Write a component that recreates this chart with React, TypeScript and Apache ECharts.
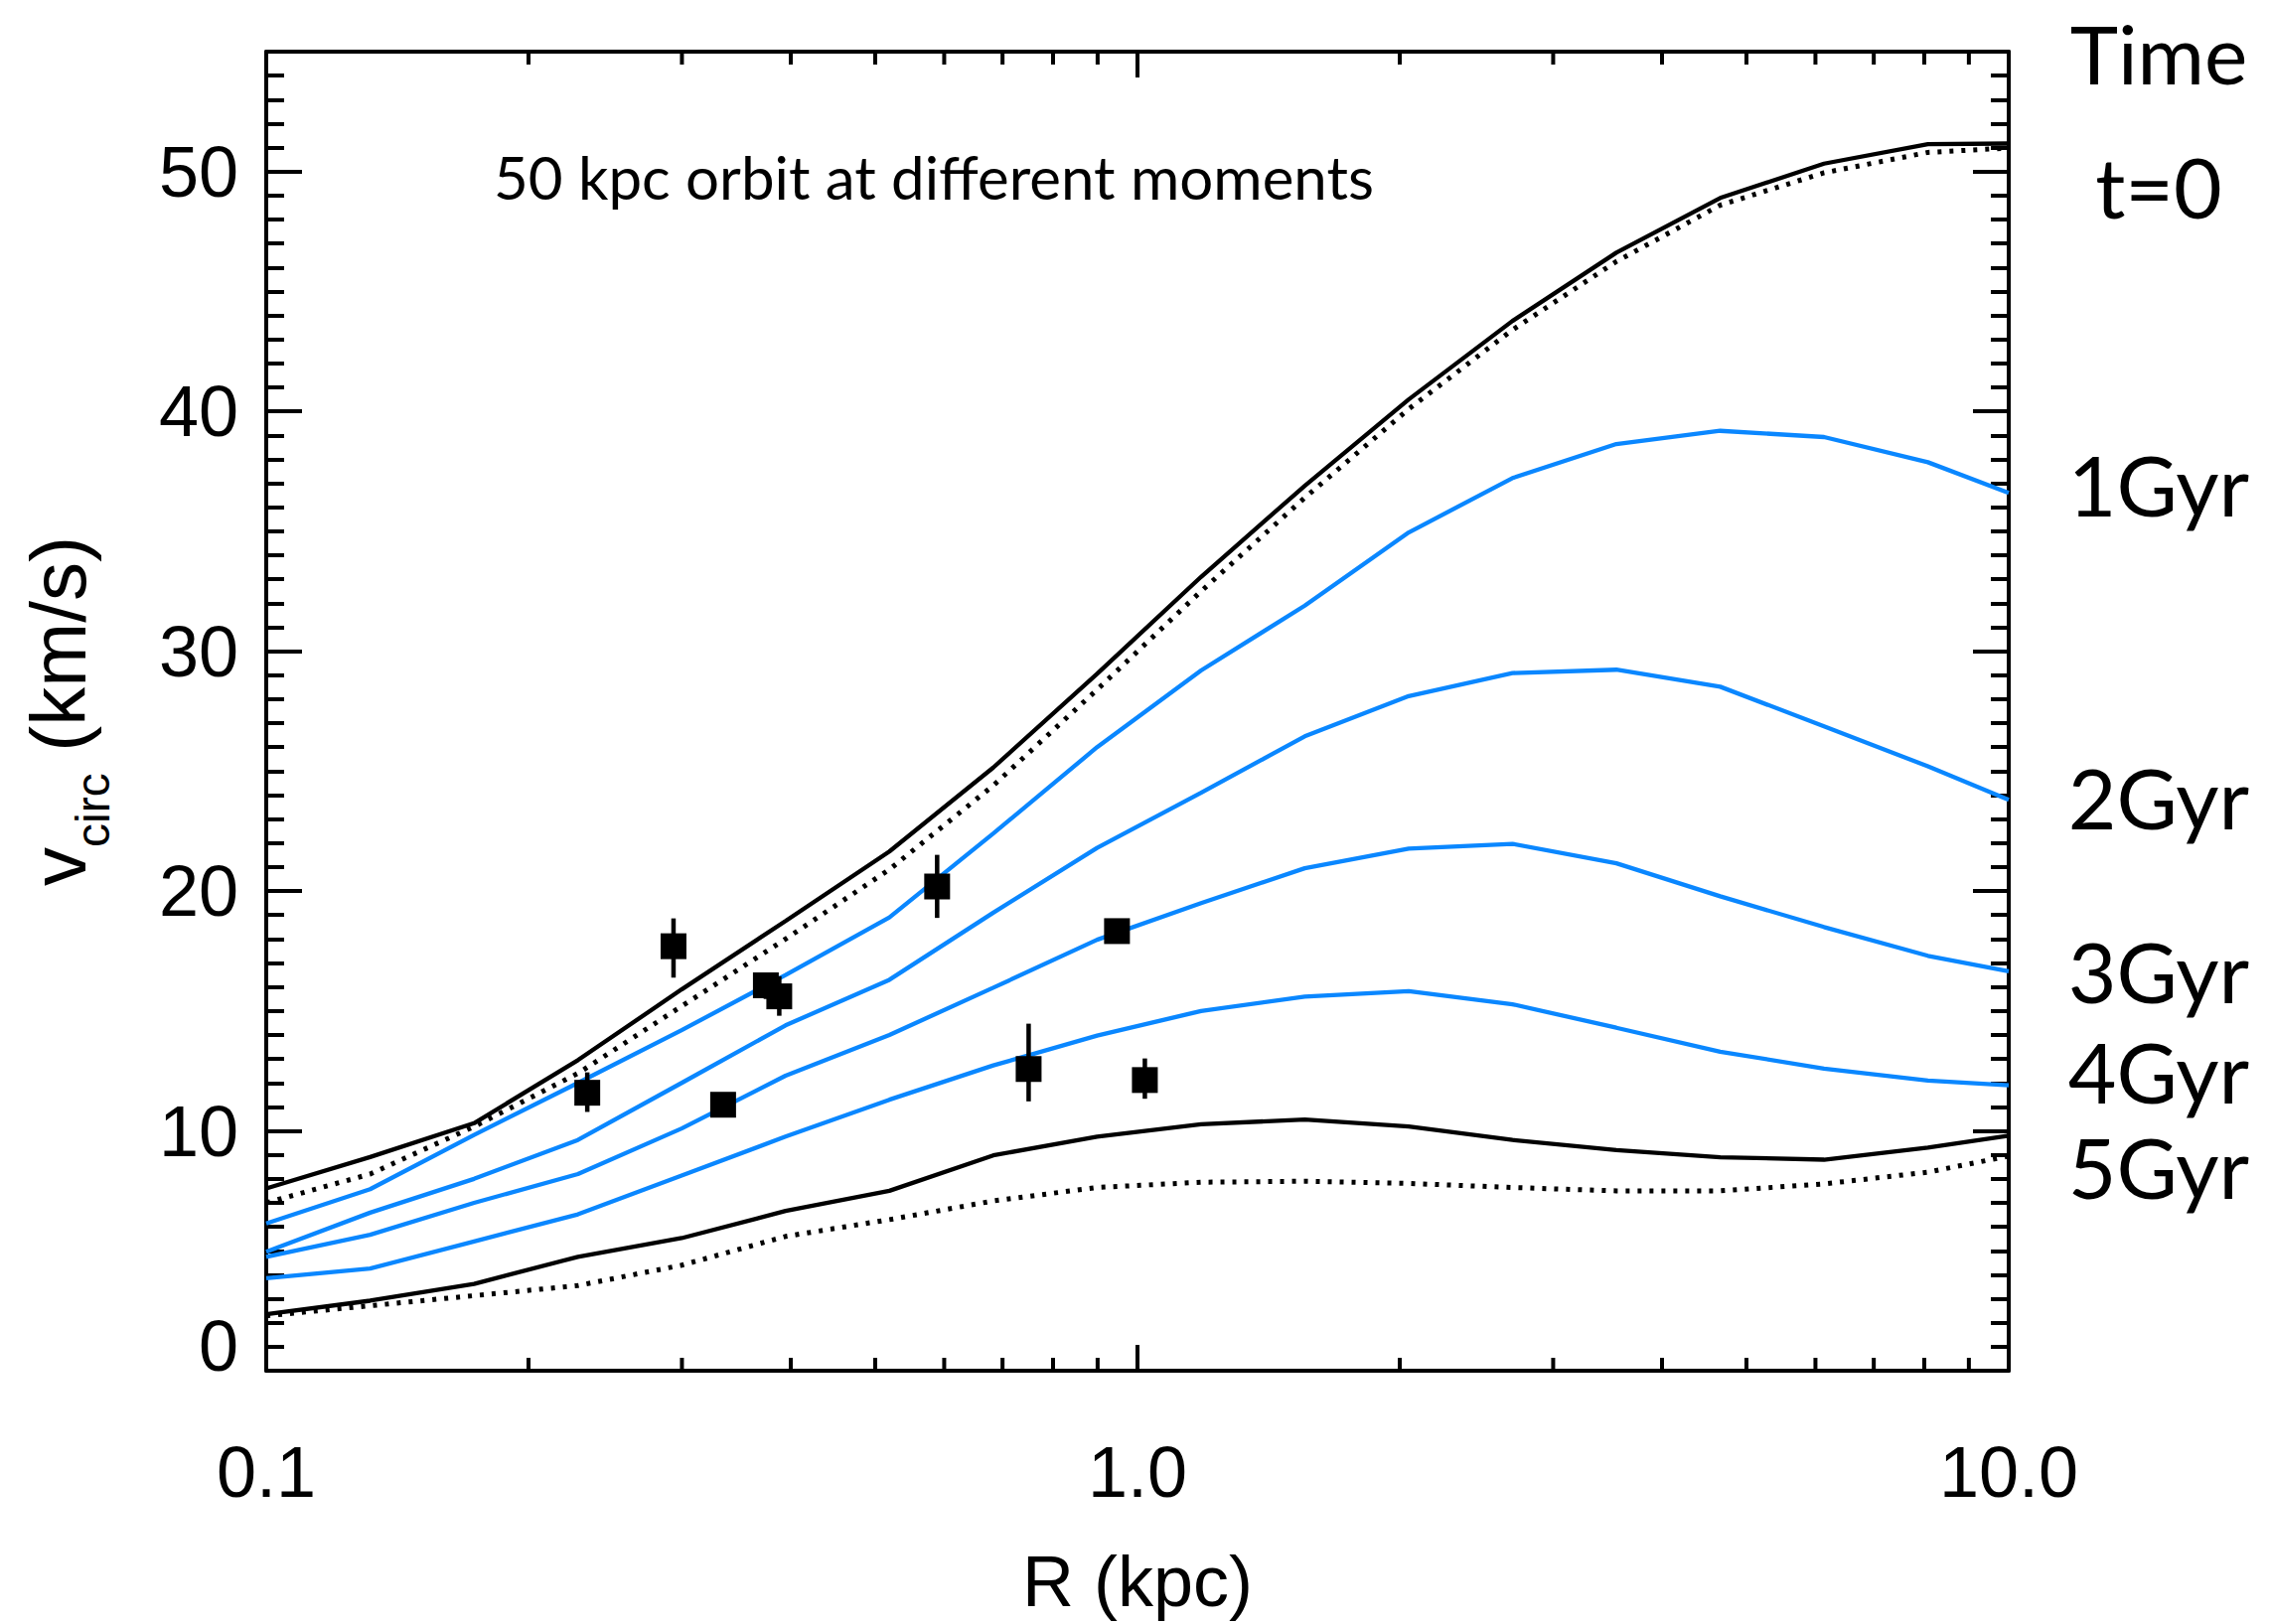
import React, { useEffect, useRef } from 'react';
import * as echarts from 'echarts';

// Radii (kpc) of the model grid points
const R = [0.1, 0.1316, 0.1732, 0.2279, 0.2998, 0.3945, 0.5191, 0.6831, 0.8988, 1.183, 1.556, 2.048, 2.694, 3.545, 4.665, 6.138, 8.077, 10.0];
// Circular velocity curves (km/s)
const t0Solid = [7.6, 8.91, 10.32, 12.95, 15.9, 18.75, 21.65, 25.15, 29.06, 33.1, 36.9, 40.5, 43.77, 46.62, 48.9, 50.33, 51.14, 51.17];
const t0Dotted = [7.0, 8.2, 10.18, 12.4, 15.2, 18.0, 20.9, 24.4, 28.4, 32.5, 36.4, 40.1, 43.4, 46.25, 48.6, 49.95, 50.8, 50.98];
const gyr1 = [6.14, 7.57, 9.83, 12.0, 14.2, 16.5, 18.9, 22.4, 26.0, 29.2, 31.9, 34.95, 37.22, 38.64, 39.19, 38.93, 37.88, 36.6];
const gyr2 = [4.96, 6.59, 8.0, 9.62, 12.0, 14.4, 16.3, 19.1, 21.8, 24.1, 26.45, 28.13, 29.09, 29.23, 28.52, 26.87, 25.2, 23.8];
const gyr3 = [4.75, 5.67, 7.0, 8.2, 10.1, 12.3, 14.0, 15.97, 17.97, 19.5, 20.95, 21.77, 21.97, 21.16, 19.78, 18.5, 17.3, 16.65];
const gyr4 = [3.86, 4.26, 5.39, 6.52, 8.14, 9.76, 11.3, 12.73, 13.97, 15.0, 15.6, 15.83, 15.28, 14.3, 13.3, 12.6, 12.1, 11.9];
const gyr5Solid = [2.36, 2.92, 3.62, 4.75, 5.53, 6.66, 7.5, 8.98, 9.76, 10.28, 10.47, 10.18, 9.62, 9.2, 8.9, 8.8, 9.3, 9.8];
const gyr5Dotted = [2.29, 2.71, 3.13, 3.55, 4.4, 5.6, 6.3, 7.08, 7.64, 7.86, 7.9, 7.81, 7.64, 7.5, 7.5, 7.79, 8.28, 8.95];

// Observed points with error bars
const ptR = [0.2336, 0.2934, 0.3345, 0.3745, 0.388, 0.5889, 0.75, 0.9473, 1.0197];
const ptV = [11.59, 17.7, 11.09, 16.07, 15.61, 20.19, 12.58, 18.33, 12.12];
const ptLo = [10.79, 16.39, 10.7, 15.5, 14.8, 18.88, 11.23, 18.0, 11.34];
const ptHi = [12.44, 18.86, 11.5, 16.6, 16.45, 21.51, 14.47, 18.66, 13.02];

// Axis ticks
const xMinorTicks = [0.2, 0.3, 0.4, 0.5, 0.6, 0.7, 0.8, 0.9, 2, 3, 4, 5, 6, 7, 8, 9];
const Y_MIN = 0;
const Y_MAX = 55;

// Right-hand labels
const timeLabels = ['Time', 't=0', '1Gyr', '2Gyr', '3Gyr', '4Gyr', '5Gyr'];
const timeLabelY = [53, 187, 487, 802, 977, 1078, 1174];

const NUM_FONT = '"Liberation Sans", Arial, Helvetica, sans-serif';
const TXT_FONT = 'Lato, "Open Sans", sans-serif';
const BLUE = '#0a87ff';

function lineSeries(name: string, vals: number[], color: string, dotted: boolean) {
  return {
    name,
    type: 'line',
    data: R.map((r, i) => [r, vals[i]]),
    showSymbol: false,
    symbol: 'none',
    xAxisIndex: 0,
    yAxisIndex: 0,
    lineStyle: { color, width: dotted ? 5 : 4.3, type: dotted ? [4, 8] : 'solid', cap: 'butt' },
    silent: true,
    z: 3,
  };
}

export default function App() {
  const ref = useRef<HTMLDivElement>(null);

  useEffect(() => {
    if (!ref.current) return;
    const chart = echarts.init(ref.current, undefined, { renderer: 'svg' });

    const axisLineStyle = { color: '#000', width: 4 };
    const tickStyle = { color: '#000', width: 4 };

    const option: any = {
      animation: false,
      backgroundColor: '#fff',
      grid: { left: 268, right: 263, top: 52, bottom: 255, containLabel: false, outerBoundsMode: 'none' },
      xAxis: [
        {
          type: 'log', logBase: 10, min: 0.1, max: 10, position: 'bottom',
          axisLine: { show: true, onZero: false, lineStyle: axisLineStyle },
          axisTick: { show: true, inside: true, length: 26, lineStyle: tickStyle },
          axisLabel: {
            show: true, margin: 66, fontSize: 72, fontFamily: NUM_FONT, color: '#000',
            formatter: (v: number) => Number(v).toFixed(1),
          },
          splitLine: { show: false },
          minorTick: { show: false },
          name: 'R (kpc)', nameLocation: 'middle', nameGap: 176,
          nameTextStyle: { fontSize: 72, fontFamily: NUM_FONT, color: '#000' },
        },
        {
          type: 'log', logBase: 10, min: 0.1, max: 10, position: 'top',
          axisLine: { show: true, onZero: false, lineStyle: axisLineStyle },
          axisTick: { show: true, inside: true, length: 26, lineStyle: tickStyle },
          axisLabel: { show: false },
          splitLine: { show: false },
        },
      ],
      yAxis: [
        {
          type: 'value', min: Y_MIN, max: Y_MAX, interval: 10, position: 'left',
          axisLine: { show: true, onZero: false, lineStyle: axisLineStyle },
          axisTick: { show: true, inside: true, length: 36, lineStyle: tickStyle },
          axisLabel: {
            show: true, margin: 28, fontSize: 72, fontFamily: NUM_FONT, color: '#000',
            showMaxLabel: false,
            formatter: (v: number) => (v === 0 ? '{z|0}' : String(v)),
            rich: { z: { fontSize: 72, fontFamily: NUM_FONT, color: '#000', padding: [0, 0, 50, 0] } },
          },
          splitLine: { show: false },
          name: '{a|v}{b|circ}{a| (km/s)}',
          nameLocation: 'middle', nameRotate: 90, nameGap: 158,
          nameTextStyle: {
            fontSize: 78, fontFamily: NUM_FONT, color: '#000',
            rich: {
              a: { fontSize: 78, fontFamily: NUM_FONT, color: '#000', lineHeight: 90, verticalAlign: 'top' },
              b: { fontSize: 48, fontFamily: NUM_FONT, color: '#000', lineHeight: 60, padding: [49, 0, 0, 0], verticalAlign: 'top' },
            },
          },
        },
        {
          type: 'value', min: Y_MIN, max: Y_MAX, interval: 10, position: 'right',
          axisLine: { show: true, onZero: false, lineStyle: axisLineStyle },
          axisTick: { show: true, inside: true, length: 36, lineStyle: tickStyle },
          axisLabel: { show: false },
          splitLine: { show: false },
        },
        {
          type: 'value', min: Y_MIN, max: Y_MAX, interval: 1, position: 'left',
          axisLine: { show: false },
          axisTick: { show: true, inside: true, length: 18, lineStyle: tickStyle },
          axisLabel: { show: false },
          splitLine: { show: false },
        },
        {
          type: 'value', min: Y_MIN, max: Y_MAX, interval: 1, position: 'right',
          axisLine: { show: false },
          axisTick: { show: true, inside: true, length: 18, lineStyle: tickStyle },
          axisLabel: { show: false },
          splitLine: { show: false },
        },
      ],
      series: [
        lineSeries('t=0', t0Solid, '#000', false),
        lineSeries('t=0 dotted', t0Dotted, '#000', true),
        lineSeries('1Gyr', gyr1, BLUE, false),
        lineSeries('2Gyr', gyr2, BLUE, false),
        lineSeries('3Gyr', gyr3, BLUE, false),
        lineSeries('4Gyr', gyr4, BLUE, false),
        lineSeries('5Gyr', gyr5Solid, '#000', false),
        lineSeries('5Gyr dotted', gyr5Dotted, '#000', true),
        {
          name: 'x minor ticks',
          type: 'custom',
          xAxisIndex: 0, yAxisIndex: 0,
          data: xMinorTicks.map((v) => [v, Y_MIN]),
          silent: true,
          z: 5,
          renderItem: (_p: any, api: any) => {
            const b = api.coord([api.value(0), Y_MIN]);
            const t = api.coord([api.value(0), Y_MAX]);
            return {
              type: 'group',
              children: [
                { type: 'line', shape: { x1: b[0], y1: b[1], x2: b[0], y2: b[1] - 13 }, style: { stroke: '#000', lineWidth: 4 } },
                { type: 'line', shape: { x1: t[0], y1: t[1], x2: t[0], y2: t[1] + 13 }, style: { stroke: '#000', lineWidth: 4 } },
              ],
            };
          },
        },
        {
          name: 'data',
          type: 'custom',
          xAxisIndex: 0, yAxisIndex: 0,
          data: ptR.map((r, i) => [r, ptV[i], ptLo[i], ptHi[i]]),
          encode: { x: 0, y: 1 },
          silent: true,
          z: 10,
          renderItem: (_p: any, api: any) => {
            const x = api.value(0);
            const p = api.coord([x, api.value(1)]);
            const lo = api.coord([x, api.value(2)]);
            const hi = api.coord([x, api.value(3)]);
            return {
              type: 'group',
              children: [
                { type: 'line', shape: { x1: p[0], y1: lo[1], x2: p[0], y2: hi[1] }, style: { stroke: '#000', lineWidth: 4.5 } },
                { type: 'rect', shape: { x: p[0] - 13, y: p[1] - 13, width: 26, height: 26 }, style: { fill: '#000' } },
              ],
            };
          },
        },
      ],
      graphic: [
        {
          type: 'text', x: 497, y: 178, silent: true,
          style: {
            text: '50 kpc orbit at different moments', fontSize: 60, fontFamily: TXT_FONT, fill: '#000',
            align: 'left', verticalAlign: 'middle', textAlign: 'left', textVerticalAlign: 'middle',
          },
        },
        ...timeLabels.map((t, i) => ({
          type: 'text', x: 2173, y: timeLabelY[i], silent: true,
          style: {
            text: t, fontSize: i === 0 ? 82 : 84, fontFamily: TXT_FONT, fill: '#000',
            align: 'center', verticalAlign: 'middle', textAlign: 'center', textVerticalAlign: 'middle',
          },
        })),
      ],
    };

    chart.setOption(option);
    return () => chart.dispose();
  }, []);

  return (
    <div
      ref={ref}
      style={{ position: 'fixed', left: 0, top: 0, width: 2285, height: 1635, background: '#fff' }}
    />
  );
}
